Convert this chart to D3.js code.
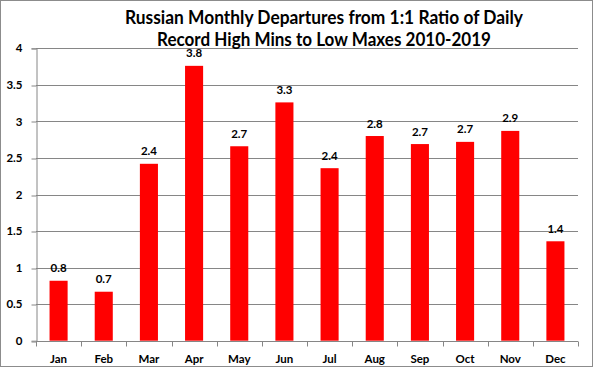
<!DOCTYPE html>
<html>
<head>
<meta charset="utf-8">
<script src="https://cdn.jsdelivr.net/npm/d3@7"></script>
<style>
  html, body { margin: 0; padding: 0; background: #fff; }
  svg { display: block; }
  text { font-family: Lato, "Open Sans", sans-serif; fill: #000; }
</style>
</head>
<body>
<svg id="chart" width="595" height="368"></svg>
<script>
const titleLines = ["Russian Monthly Departures from 1:1 Ratio of Daily", "Record High Mins to Low Maxes 2010-2019"];
const months = ["Jan","Feb","Mar","Apr","May","Jun","Jul","Aug","Sep","Oct","Nov","Dec"];
const values = [0.82, 0.67, 2.42, 3.76, 2.66, 3.26, 2.36, 2.80, 2.69, 2.72, 2.87, 1.36];
const yTicks = [0, 0.5, 1, 1.5, 2, 2.5, 3, 3.5, 4];

const svg = d3.select("#chart");
const plot = {left: 36, right: 578, top: 48.3, bottom: 340.7};
const gridColor = "#868686";

// outer border
svg.append("rect").attr("x", 0.5).attr("y", 0.5).attr("width", 592).attr("height", 366)
  .attr("fill", "#fff").attr("stroke", "#8c8c8c").attr("stroke-width", 1);

const x = d3.scaleBand().domain(months).range([plot.left, plot.right])
  .paddingInner(0.6).paddingOuter(0.3);
const y = d3.scaleLinear().domain([0, 4]).range([plot.bottom, plot.top]);

// gridlines
svg.append("g").selectAll("line").data(yTicks.filter(d => d > 0)).join("line")
  .attr("x1", plot.left).attr("x2", plot.right)
  .attr("y1", d => Math.round(y(d)) + 0.5).attr("y2", d => Math.round(y(d)) + 0.5)
  .attr("stroke", gridColor).attr("stroke-width", 1);

// y axis
const yAxis = d3.axisLeft(y).tickValues(yTicks).tickSize(5).tickPadding(9)
  .tickFormat(d3.format("~g"));
const gy = svg.append("g").attr("transform", `translate(${plot.left + 0.5},0)`).call(yAxis);
gy.select(".domain").attr("stroke", gridColor);
gy.selectAll(".tick line").attr("stroke", gridColor)
  .attr("transform", d => `translate(0,${Math.round(y(d)) + 0.5 - y(d)})`);
gy.selectAll(".tick text").attr("font-size", 11.5).attr("font-weight", "bold")
  .attr("font-family", "Lato, sans-serif").attr("fill", "#000");

// bars
svg.append("g").selectAll("rect").data(values).join("rect")
  .attr("x", (d, i) => x(months[i]))
  .attr("width", x.bandwidth())
  .attr("y", d => y(d))
  .attr("height", d => y(0) - y(d))
  .attr("fill", "#ff0000");

// x axis line and ticks at band boundaries
const boundaries = d3.range(months.length + 1).map(i => plot.left + i * (plot.right - plot.left) / months.length);
svg.append("line").attr("x1", plot.left).attr("x2", plot.right)
  .attr("y1", Math.round(y(0)) + 0.5).attr("y2", Math.round(y(0)) + 0.5)
  .attr("stroke", gridColor);
svg.append("g").selectAll("line").data(boundaries).join("line")
  .attr("x1", d => Math.round(d) + 0.5).attr("x2", d => Math.round(d) + 0.5)
  .attr("y1", Math.round(y(0)) + 0.5).attr("y2", Math.round(y(0)) + 5.5)
  .attr("stroke", gridColor);

// x labels
svg.append("g").selectAll("text").data(months).join("text")
  .attr("x", d => x(d) + x.bandwidth() / 2)
  .attr("y", 363)
  .attr("text-anchor", "middle")
  .attr("font-size", 11.5).attr("font-weight", "bold")
  .text(d => d);

// data labels
svg.append("g").selectAll("text").data(values).join("text")
  .attr("x", (d, i) => x(months[i]) + x.bandwidth() / 2)
  .attr("y", d => y(d) - 8.5)
  .attr("text-anchor", "middle")
  .attr("font-size", 11.5).attr("font-weight", "bold")
  .text(d => d3.format(".1f")(d));

// title
const titleG = svg.append("g");
const titleWidths = [398, 334];
const titleBaselines = [24, 46];
titleLines.forEach((t, i) => {
  titleG.append("text")
    .attr("x", 324).attr("y", titleBaselines[i])
    .attr("text-anchor", "middle")
    .attr("font-size", 18).attr("font-weight", "bold")
    .attr("textLength", titleWidths[i]).attr("lengthAdjust", "spacingAndGlyphs")
    .text(t);
});
</script>
</body>
</html>
